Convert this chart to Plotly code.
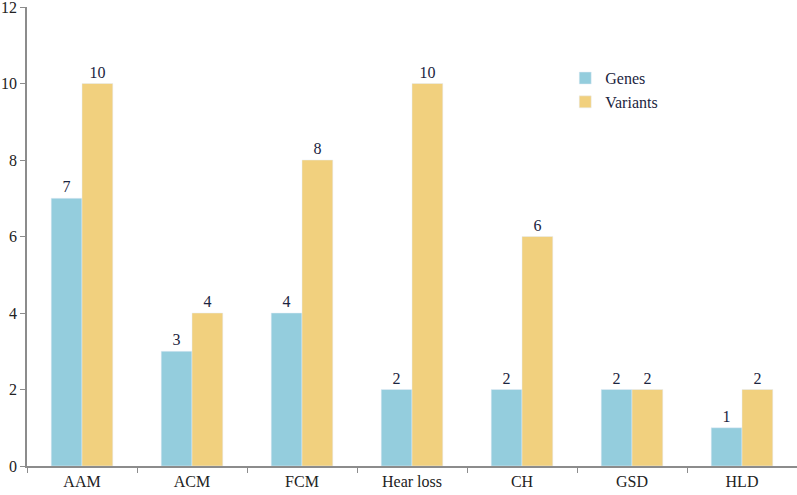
import plotly.graph_objects as go

categories = ["AAM", "ACM", "FCM", "Hear loss", "CH", "GSD", "HLD"]
genes = [7, 3, 4, 2, 2, 2, 1]
variants = [10, 4, 8, 10, 6, 2, 2]

font_family = "Liberation Serif, Times New Roman, serif"
label_color = "#1b2440"

fig = go.Figure()
fig.add_trace(go.Bar(name="Genes", x=categories, y=genes, marker_color="#94CDDD",
                     text=genes, textposition="outside", cliponaxis=False,
                     textfont=dict(family=font_family, size=16, color=label_color)))
fig.add_trace(go.Bar(name="Variants", x=categories, y=variants, marker_color="#F1D07E",
                     text=variants, textposition="outside", cliponaxis=False,
                     textfont=dict(family=font_family, size=16, color=label_color)))

fig.update_layout(
    width=797, height=495,
    margin=dict(l=27, r=0, t=7, b=29),
    plot_bgcolor="white", paper_bgcolor="white",
    barmode="group", bargap=0.44, bargroupgap=0,
    font=dict(family=font_family, size=16, color="#222"),
    legend=dict(x=0.699, y=0.882, xanchor="left", yanchor="top",
                bgcolor="rgba(0,0,0,0)", itemwidth=30,
                font=dict(family=font_family, size=16, color="#1b2440")),
    xaxis=dict(showline=True, linecolor="#8c8c8c", linewidth=1.5, automargin=False,
               ticks="outside", tickson="boundaries", ticklen=5, tickcolor="#8c8c8c",
               showgrid=False, tickfont=dict(size=16, color="#222")),
    yaxis=dict(range=[0, 12], dtick=2, showline=True, linecolor="#8c8c8c", linewidth=1.5,
               automargin=False, ticklabeloverflow="allow",
               ticks="outside", ticklen=5, tickcolor="#8c8c8c", showgrid=False,
               zeroline=False, tickfont=dict(size=16, color="#222")),
)

fig.write_html("out.html", config={"displayModeBar": False},
               post_script="document.body.style.margin='0';document.body.style.padding='0';")
